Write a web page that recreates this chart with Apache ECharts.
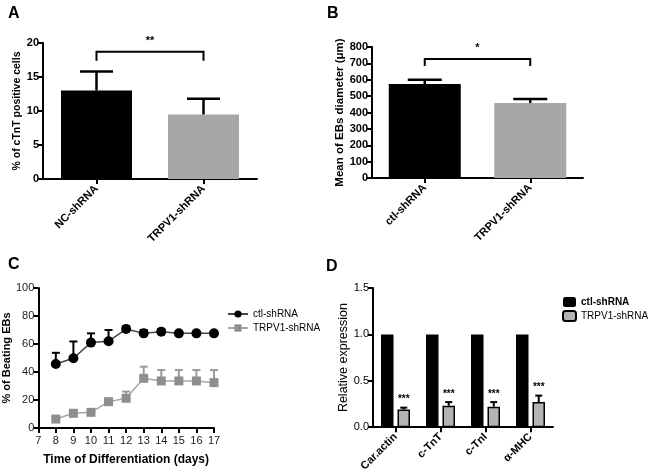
<!DOCTYPE html>
<html><head><meta charset="utf-8">
<script src="https://cdn.jsdelivr.net/npm/echarts@6/dist/echarts.min.js"></script>
<style>html,body{margin:0;padding:0;background:#fff}#c{width:651px;height:474px}</style>
</head><body><div id="c"></div>
<script>
// ---------- DATA ----------
const catsA = ['NC-shRNA', 'TRPV1-shRNA'];
const valsA = [13.0, 9.5];
const sdA = [2.8, 2.3];
const sigA = [[0, 1, 18.7, 17.4, '**']];

const catsB = ['ctl-shRNA', 'TRPV1-shRNA'];
const valsB = [574, 458];
const sdB = [26, 24];
const sigB = [[0, 1, 727, 684, '*']];

const daysC = [8, 9, 10, 11, 12, 13, 14, 15, 16, 17];
const ctlC = [45.7, 49.8, 61.0, 62.0, 70.7, 67.6, 68.8, 67.6, 67.6, 67.6];
const ctlSdC = [8.0, 12.0, 6.6, 8.0, 2.2, 2.4, 2.0, 0.5, 0.5, 0.5];
const trpC = [6.4, 10.5, 11.2, 18.8, 21.2, 35.5, 33.6, 33.6, 33.6, 32.4];
const trpSdC = [0.5, 0.5, 0.5, 0.5, 4.8, 8.3, 7.8, 7.8, 7.8, 9.0];

const catsD = ['Car.actin', 'c-TnT', 'c-TnI', 'α-MHC'];
const ctlD = [1, 1, 1, 1];
const trpD = [0.19, 0.23, 0.22, 0.27];
const trpSdD = [0.02, 0.04, 0.05, 0.07];
const starsD = ['***', '***', '***', '***'];

// ---------- STYLE ----------
const FF = 'Liberation Sans';
const DBW = 12.5, DGAP = 4; // panel D bar width & gap (px)

function errBar(capW, color, lw, offset, texts) {
  return function (params, api) {
    const x = api.value(0), y = api.value(1), e = api.value(2);
    const p0 = api.coord([x, y]);
    const p1 = api.coord([x, y + e]);
    const cx = p0[0] + (offset || 0);
    const ch = [];
    if (e > 0.0001) {
      ch.push({type: 'line', shape: {x1: cx, y1: p0[1], x2: cx, y2: p1[1]}, style: {stroke: color, lineWidth: lw}});
      ch.push({type: 'line', shape: {x1: cx - capW / 2, y1: p1[1], x2: cx + capW / 2, y2: p1[1]}, style: {stroke: color, lineWidth: lw}});
    }
    if (texts) {
      ch.push({type: 'text', style: {text: texts[params.dataIndex], x: cx, y: p1[1] - 3, align: 'center', verticalAlign: 'bottom', fill: '#000', fontSize: 10, fontWeight: 'bold', fontFamily: FF}});
    }
    return {type: 'group', children: ch};
  };
}
function bracket(params, api) {
  const a = api.coord([api.value(0), api.value(2)]);
  const b = api.coord([api.value(1), api.value(2)]);
  const legY = api.coord([api.value(0), api.value(3)])[1];
  const txt = sigTexts[params.seriesName][params.dataIndex];
  return {type: 'group', children: [
    {type: 'polyline', shape: {points: [[a[0], legY], [a[0], a[1]], [b[0], a[1]], [b[0], legY]]}, style: {stroke: '#000', lineWidth: 2, fill: null}},
    {type: 'text', style: {text: txt, x: (a[0] + b[0]) / 2, y: a[1] - 5, align: 'center', verticalAlign: 'bottom', fill: '#000', fontSize: 11, fontWeight: 'bold', fontFamily: FF}}
  ]};
}
const sigTexts = {sigA: sigA.map(d => d[4]), sigB: sigB.map(d => d[4])};

const axLine = {show: true, lineStyle: {color: '#000', width: 2}};
const axTick = {show: true, inside: false, length: 5, lineStyle: {color: '#000', width: 2}};
const boldLbl = {color: '#000', fontFamily: FF, fontWeight: 'bold', fontSize: 11};
const letter = {fontFamily: FF, fontWeight: 'bold', fontSize: 16, color: '#000'};

const option = {
  animation: false,
  backgroundColor: '#fff',
  title: [
    {text: 'A', left: 3, top: 1, textStyle: letter},
    {text: 'B', left: 322, top: 1, textStyle: letter},
    {text: 'C', left: 3, top: 252, textStyle: letter},
    {text: 'D', left: 321, top: 254, textStyle: letter}
  ],
  legend: [
    {left: 222, top: 304, orient: 'vertical', itemGap: 4, itemWidth: 20, itemHeight: 9,
     textStyle: {fontFamily: FF, fontSize: 10, color: '#000'},
     data: ['ctl-shRNA', 'TRPV1-shRNA']},
    {left: 562, top: 297, padding: 0, orient: 'vertical', itemGap: 3, itemWidth: 13, itemHeight: 10,
     textStyle: {fontFamily: FF, fontSize: 10, color: '#000'},
     data: [{name: 'ctl-shRNA ', icon: 'roundRect', textStyle: {fontWeight: 'bold'}}, {name: 'TRPV1-shRNA ', icon: 'roundRect'}]}
  ],
  grid: [
    {left: 43, top: 43, width: 214, height: 136},
    {left: 372, top: 47, width: 211, height: 131},
    {left: 35, top: 288, width: 179, height: 140},
    {left: 373, top: 288, width: 180, height: 141}
  ],
  xAxis: [
    {gridIndex: 0, type: 'category', data: catsA, axisLine: axLine, axisTick: Object.assign({alignWithLabel: true}, axTick),
     axisLabel: Object.assign({rotate: 45, margin: 8, interval: 0}, boldLbl)},
    {gridIndex: 1, type: 'category', data: catsB, axisLine: axLine, axisTick: Object.assign({alignWithLabel: true}, axTick),
     axisLabel: Object.assign({rotate: 45, margin: 8, interval: 0}, boldLbl)},
    {gridIndex: 2, type: 'value', min: 7, max: 17, interval: 1, axisLine: axLine, axisTick: axTick, splitLine: {show: false},
     axisLabel: {color: '#222', fontFamily: FF, fontSize: 11, margin: 7},
     name: 'Time of Differentiation (days)', nameLocation: 'middle', nameGap: 26,
     nameTextStyle: {fontFamily: FF, fontWeight: 'bold', fontSize: 12, color: '#000'}},
    {gridIndex: 3, type: 'category', data: catsD, axisLine: axLine, axisTick: Object.assign({alignWithLabel: true}, axTick),
     axisLabel: Object.assign({rotate: 45, margin: 8, interval: 0}, boldLbl)}
  ],
  yAxis: [
    {gridIndex: 0, type: 'value', min: 0, max: 20, interval: 5, axisLine: axLine, axisTick: axTick, splitLine: {show: false},
     axisLabel: Object.assign({margin: 4}, boldLbl),
     name: '% of cTnT positive cells', nameLocation: 'middle', nameGap: 18,
     nameTextStyle: {fontFamily: FF, fontWeight: 'bold', fontSize: 10.5, color: '#000'}},
    {gridIndex: 1, type: 'value', min: 0, max: 800, interval: 100, axisLine: axLine, axisTick: axTick, splitLine: {show: false},
     axisLabel: Object.assign({margin: 4}, boldLbl),
     name: 'Mean of EBs diameter (μm)', nameLocation: 'middle', nameGap: 26,
     nameTextStyle: {fontFamily: FF, fontWeight: 'bold', fontSize: 11.5, color: '#000'}},
    {gridIndex: 2, type: 'value', min: 0, max: 100, interval: 20, axisLine: axLine, axisTick: axTick, splitLine: {show: false},
     axisLabel: {color: '#222', fontFamily: FF, fontSize: 11, margin: 4},
     name: '% of Beating EBs', nameLocation: 'middle', nameGap: 18,
     nameTextStyle: {fontFamily: FF, fontWeight: 'bold', fontSize: 11, color: '#000'}},
    {gridIndex: 3, type: 'value', min: 0, max: 1.5, interval: 0.5, axisLine: axLine, axisTick: axTick, splitLine: {show: false},
     axisLabel: {color: '#000', fontFamily: FF, fontSize: 11, margin: 4, formatter: v => v.toFixed(1)},
     name: 'Relative expression', nameLocation: 'middle', nameGap: 21,
     nameTextStyle: {fontFamily: FF, fontSize: 12.5, color: '#000'}}
  ],
  series: [
    // A
    {type: 'bar', xAxisIndex: 0, yAxisIndex: 0, barWidth: 71, data: valsA.map((v, i) => ({value: v, itemStyle: {color: i === 0 ? '#000' : '#a7a7a9'}}))},
    {type: 'custom', xAxisIndex: 0, yAxisIndex: 0, renderItem: errBar(33, '#000', 2.5), data: valsA.map((v, i) => [i, v, sdA[i]]), z: 5},
    // B
    {type: 'bar', xAxisIndex: 1, yAxisIndex: 1, barWidth: 72, data: valsB.map((v, i) => ({value: v, itemStyle: {color: i === 0 ? '#000' : '#a7a7a9'}}))},
    {type: 'custom', xAxisIndex: 1, yAxisIndex: 1, renderItem: errBar(34, '#000', 2.5), data: valsB.map((v, i) => [i, v, sdB[i]]), z: 5},
    // C
    {name: 'ctl-shRNA', type: 'line', xAxisIndex: 2, yAxisIndex: 2, data: daysC.map((d, i) => [d, ctlC[i]]),
     symbol: 'circle', symbolSize: 10, itemStyle: {color: '#000'}, lineStyle: {color: '#444', width: 1.5}, z: 4},
    {name: 'TRPV1-shRNA', type: 'line', xAxisIndex: 2, yAxisIndex: 2, data: daysC.map((d, i) => [d, trpC[i]]),
     symbol: 'rect', symbolSize: 9, itemStyle: {color: '#8e8e8e'}, lineStyle: {color: '#a8a8a8', width: 1.5}, z: 4},
    {type: 'custom', xAxisIndex: 2, yAxisIndex: 2, renderItem: errBar(8, '#000', 2), data: daysC.map((d, i) => [d, ctlC[i], ctlSdC[i]]), z: 3},
    {type: 'custom', xAxisIndex: 2, yAxisIndex: 2, renderItem: errBar(8, '#9a9a9a', 2), data: daysC.map((d, i) => [d, trpC[i], trpSdC[i]]), z: 3},
    // D
    {name: 'ctl-shRNA ', type: 'bar', xAxisIndex: 3, yAxisIndex: 3, barWidth: DBW, barGap: (DGAP / DBW * 100) + '%', data: ctlD,
     itemStyle: {color: '#000'}},
    {name: 'TRPV1-shRNA ', type: 'bar', xAxisIndex: 3, yAxisIndex: 3, barWidth: DBW, data: trpD,
     itemStyle: {color: '#b3b3b3', borderColor: '#000', borderWidth: 1.5}},
    {type: 'custom', xAxisIndex: 3, yAxisIndex: 3, renderItem: errBar(7, '#000', 2, DBW / 2 + DGAP / 2, starsD), data: trpD.map((v, i) => [i, v, trpSdD[i]]), z: 5},
    // significance brackets
    {name: 'sigA', type: 'custom', xAxisIndex: 0, yAxisIndex: 0, renderItem: bracket, data: sigA.map(d => d.slice(0, 4)), z: 6},
    {name: 'sigB', type: 'custom', xAxisIndex: 1, yAxisIndex: 1, renderItem: bracket, data: sigB.map(d => d.slice(0, 4)), z: 6}
  ]
};
const chart = echarts.init(document.getElementById('c'), null, {renderer: 'canvas'});
chart.setOption(option);
</script></body></html>
